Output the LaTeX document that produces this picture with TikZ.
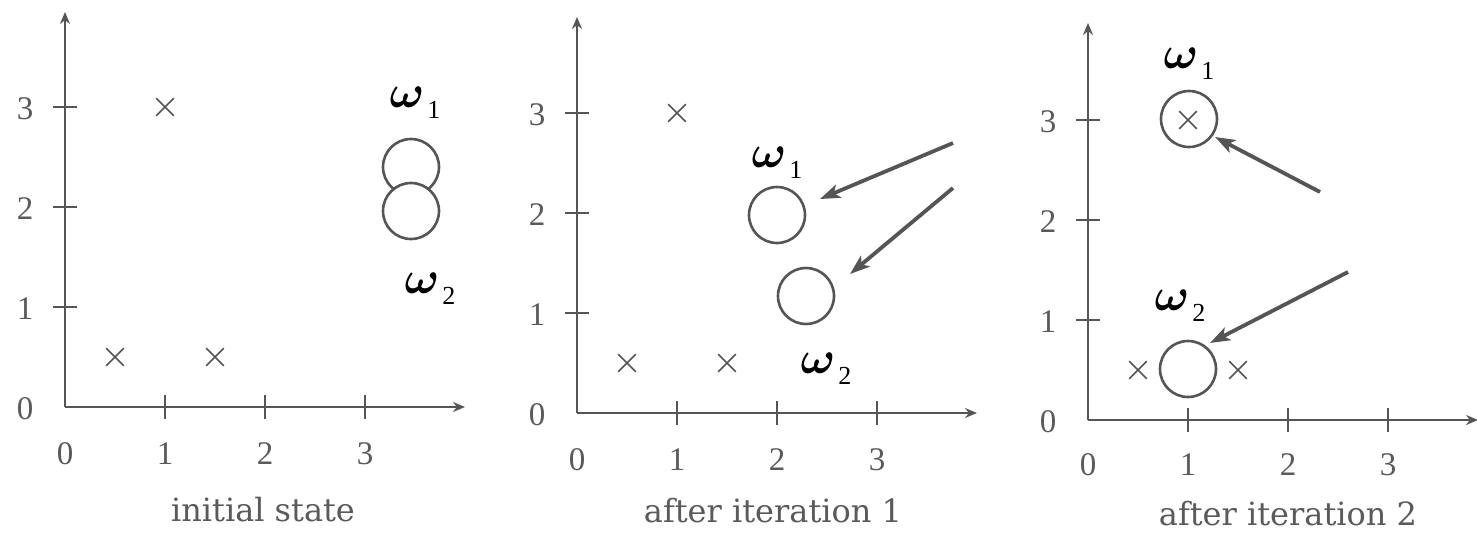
\documentclass[tikz,border=0pt]{standalone}
\usepackage{graphicx}
\usepackage{fontspec}
\setmainfont{DejaVu Serif}
\newfontfamily\libser{Liberation Serif}
\usetikzlibrary{arrows.meta,shapes.misc}
\definecolor{ink}{HTML}{555555}
\definecolor{txt}{HTML}{5A5A5A}
\tikzset{
  axisline/.style={draw=ink, line width=2.8pt, -{Stealth[length=12pt,width=10pt]}},
  tickline/.style={draw=ink, line width=2.6pt},
  ticklab/.style={text=txt, font=\libser\fontsize{33}{33}\selectfont, inner sep=0pt},
  caption/.style={text=txt, font=\fontsize{32}{32}\selectfont, inner sep=0pt},
  datapt/.style={cross out, draw=ink, line width=1.7pt, minimum size=16pt, inner sep=0pt},
  proto/.style={circle, draw=ink, line width=2.6pt, minimum size=56pt, inner sep=0pt},
  movearrow/.style={draw=ink, line width=3.8pt, -{Stealth[length=20pt,width=14pt,inset=5pt]}},
  wlab/.style={anchor=base, inner sep=0pt, text=black},
}
\newcommand\wlabel[1]{{\fontsize{10}{10}\selectfont\boldmath\scalebox{4.6}{$\omega$}}\hspace{3pt}\raisebox{-11pt}{\libser\fontsize{26}{26}\selectfont #1}}
\begin{document}
\begin{tikzpicture}[x=1pt,y=-1pt]
\fill[white] (0,0) rectangle (1477,539);
\useasboundingbox (0,0) rectangle (1477,539);

% ---------- panel 1 ----------
\draw[axisline] (65,407) -- (65,12);
\draw[axisline] (65,407) -- (465,407);
\foreach \k in {1,2,3} {
  \draw[tickline] (53,407-100*\k) -- (77,407-100*\k);
  \draw[tickline] (65+100*\k,395) -- (65+100*\k,419);
}
\foreach \k in {0,1,2,3} {
  \node[ticklab] (p1y\k) at (25,409-100*\k) {\k};
  \node[ticklab] (p1x\k) at (65+100*\k,454) {\k};
}
\node[datapt] (p1a) at (165,107) {};
\node[datapt] (p1b) at (115,357) {};
\node[datapt] (p1c) at (215,357) {};
\node[proto] (p1w1) at (411,167) {};
\node[proto, fill=white] (p1w2) at (411,211) {};
\node[wlab] (p1l1) at (415,107) {\wlabel{1}};
\node[wlab] (p1l2) at (430,293) {\wlabel{2}};
\node[caption] (p1cap) at (263,510) {initial state};

% ---------- panel 2 ----------
\draw[axisline] (577,413) -- (577,17);
\draw[axisline] (577,413) -- (977,413);
\foreach \k in {1,2,3} {
  \draw[tickline] (565,413-100*\k) -- (589,413-100*\k);
  \draw[tickline] (577+100*\k,401) -- (577+100*\k,425);
}
\foreach \k in {0,1,2,3} {
  \node[ticklab] (p2y\k) at (537,415-100*\k) {\k};
  \node[ticklab] (p2x\k) at (577+100*\k,460) {\k};
}
\node[datapt] (p2a) at (677,113) {};
\node[datapt] (p2b) at (627,363) {};
\node[datapt] (p2c) at (727,363) {};
\node[proto] (p2w1) at (777,215) {};
\node[proto] (p2w2) at (806,296) {};
\node[wlab] (p2l1) at (777,167) {\wlabel{1}};
\node[wlab] (p2l2) at (826,373) {\wlabel{2}};
\coordinate (p2s1) at (953,143);
\coordinate (p2t1) at (820,199);
\coordinate (p2s2) at (953,188);
\coordinate (p2t2) at (850,274);
\draw[movearrow] (p2s1) -- (p2t1);
\draw[movearrow] (p2s2) -- (p2t2);
\node[caption] (p2cap) at (773,511) {after iteration 1};

% ---------- panel 3 ----------
\draw[axisline] (1088,420) -- (1088,23);
\draw[axisline] (1088,420) -- (1478,420);
\foreach \k in {1,2,3} {
  \draw[tickline] (1076,420-100*\k) -- (1100,420-100*\k);
  \draw[tickline] (1088+100*\k,408) -- (1088+100*\k,432);
}
\foreach \k in {0,1,2,3} {
  \node[ticklab] (p3y\k) at (1048,422-100*\k) {\k};
  \node[ticklab] (p3x\k) at (1088+100*\k,465) {\k};
}
\node[datapt] (p3a) at (1188,120) {};
\node[datapt] (p3b) at (1138,370) {};
\node[datapt] (p3c) at (1238,370) {};
\node[proto] (p3w1) at (1189,119) {};
\node[proto] (p3w2) at (1188,369) {};
\node[wlab] (p3l1) at (1189,68) {\wlabel{1}};
\node[wlab] (p3l2) at (1180,310) {\wlabel{2}};
\coordinate (p3s1) at (1320,192);
\coordinate (p3t1) at (1215,137);
\coordinate (p3s2) at (1348,272);
\coordinate (p3t2) at (1210,343);
\draw[movearrow] (p3s1) -- (p3t1);
\draw[movearrow] (p3s2) -- (p3t2);
\node[caption] (p3cap) at (1288,514) {after iteration 2};
\end{tikzpicture}
\end{document}
